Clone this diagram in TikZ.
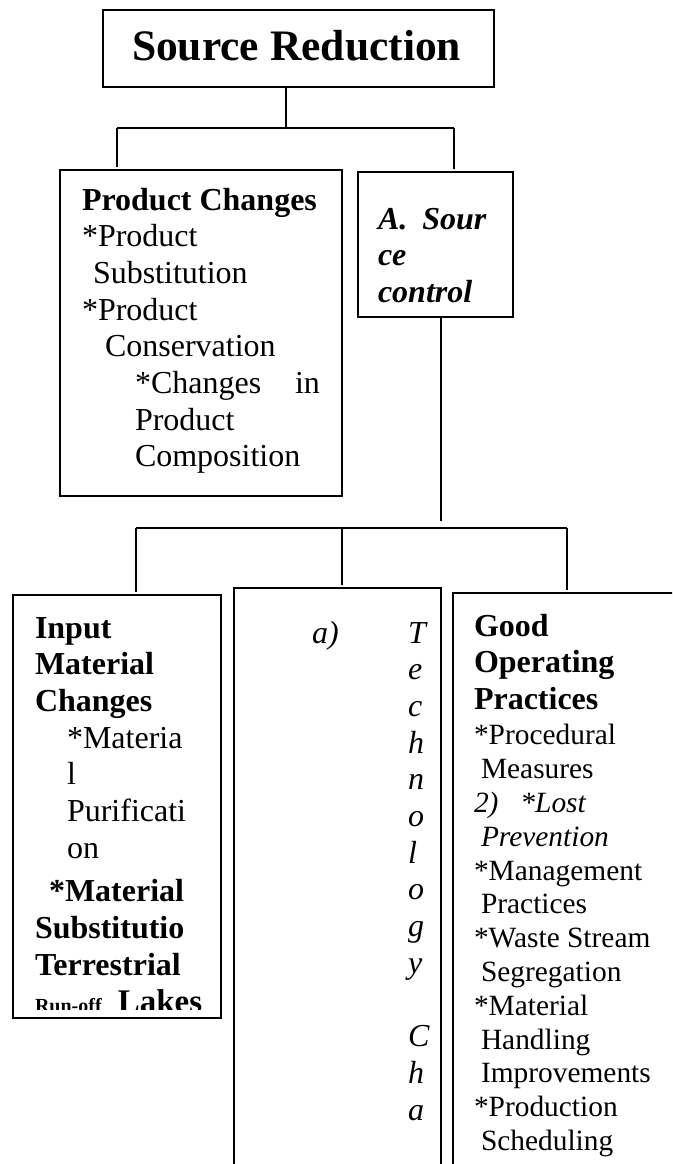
\documentclass[tikz,border=0pt]{standalone}
\usepackage{fontspec}
\setmainfont{Liberation Serif}
\usepackage{tikz}
\usetikzlibrary{calc}
\newcommand{\bodyfont}{\fontsize{32}{36.7}\selectfont}
\newcommand{\gofont}{\fontsize{29.4}{33.8}\selectfont}
\newcommand{\headfont}{\fontsize{32}{33.8}\selectfont\bfseries}
\tikzset{box/.style={draw,line width=1.6pt,inner sep=0pt,outer sep=0pt,anchor=north west}}
\tikzset{txt/.style={anchor=base west,inner sep=0pt,outer sep=0pt,font=\bodyfont}}
\tikzset{link/.style={line width=1.6pt}}
\tikzset{drop/.style={link,shorten >=3pt}}
\begin{document}
\begin{tikzpicture}[x=1pt,y=-1pt]
                    \useasboundingbox (0,0) rectangle (672,1164);
                    \clip (0,0) rectangle (672,1164);
                    % boxes
                    \node[box,minimum width=391pt,minimum height=77pt](src) at (103,10){};
                    \node[box,minimum width=282pt,minimum height=326pt](pc) at (60,170){};
                    \node[box,minimum width=155pt,minimum height=145pt](ac) at (358,172){};
                    \node[box,minimum width=208pt,minimum height=423pt](im) at (13,595){};
                    \node[box,minimum width=207pt,minimum height=700pt](tc) at (234,588){};
                    \node[box,minimum width=300pt,minimum height=700pt](go) at (453,593){};

                    % texts
                    \node[txt,font=\fontsize{43.5}{48}\selectfont\bfseries](srctext) at (132,61){Source Reduction};
                    \node[txt](pctext) at (82,210){\parbox[t]{255pt}{\textbf{Product Changes}\\
                        {}*Product\\
                        \hspace*{11pt}Substitution\\
                        {}*Product\\
                        \hspace*{23pt}Conservation\\
                        \hspace*{53pt}\makebox[185pt][l]{*Changes\hfill in}\\
                        \hspace*{53pt}Product\\
                        \hspace*{53pt}Composition}};
                    \node[txt,font=\bodyfont\bfseries\itshape](actext) at (378,229){\parbox[t]{130pt}{A.\hspace{15pt}Sour\\ce\\control}};
                    \begin{scope}
                        \clip (im.north west) rectangle ($(im.south east)+(0,-9)$);
                        \node[txt](imtext) at (35,638){\parbox[t]{180pt}{\textbf{Input}\\
                            \textbf{Material}\\
                            \textbf{Changes}\\
                            \hspace*{32pt}*Materia\\
                            \hspace*{32pt}l\\
                            \hspace*{32pt}Purificati\\
                            \hspace*{32pt}on\\[7pt]
                            \hspace*{14pt}\textbf{*Material}\\
                            \textbf{Substitutio}\\
                            \textbf{Terrestrial}\\
                            {\fontsize{20}{24}\selectfont\textbf{Run-off}}\hspace{16pt}{\fontsize{33}{36.7}\selectfont\textbf{Lakes}}}};
                    \end{scope}
                    \node[txt,font=\bodyfont\itshape](tclabel) at (312,643){a)};
                    \node[txt,font=\fontsize{32}{36.7}\selectfont\itshape](tctext) at (408,643){\parbox[t]{30pt}{\raggedright T\\e\\c\\h\\n\\o\\l\\o\\g\\y\\ \mbox{}\\C\\h\\a}};
                    \node[txt,font=\gofont](gotext) at (474,636){\parbox[t]{200pt}{{\headfont Good}\\[3pt]
                        {\headfont Operating}\\[3pt]
                        {\headfont Practices}\\[1.5pt]
                        {}*Procedural\\
                        \hspace*{7pt}Measures\\
                        \textit{2)\hspace{22pt}*Lost}\\
                        \hspace*{7pt}\textit{Prevention}\\
                        {}*Management\\
                        \hspace*{7pt}Practices\\
                        {}*Waste Stream\\
                        \hspace*{7pt}Segregation\\
                        {}*Material\\
                        \hspace*{7pt}Handling\\
                        \hspace*{7pt}Improvements\\
                        {}*Production\\
                        \hspace*{7pt}Scheduling}};

                    % connectors
                    \coordinate (j1) at (286,128);
                    \coordinate (l1) at (117,128);
                    \coordinate (r1) at (454,128);
                    \coordinate (j2) at (441,521);
                    \coordinate (l2) at (136,528);
                    \coordinate (m2) at (342,528);
                    \coordinate (r2) at (567,528);
                    \draw[link] (src.south -| j1) -- (j1);
                    \draw[link] (l1) -- (r1);
                    \draw[drop] (l1) -- (pc.north -| l1);
                    \draw[drop] (r1) -- (ac.north -| r1);
                    \draw[link] (ac.south -| j2) -- (j2);
                    \draw[link] (l2) -- (r2);
                    \draw[drop] (l2) -- (im.north -| l2);
                    \draw[drop] (m2) -- (tc.north -| m2);
                    \draw[drop] (r2) -- (go.north -| r2);
                \end{tikzpicture}
\end{document}
